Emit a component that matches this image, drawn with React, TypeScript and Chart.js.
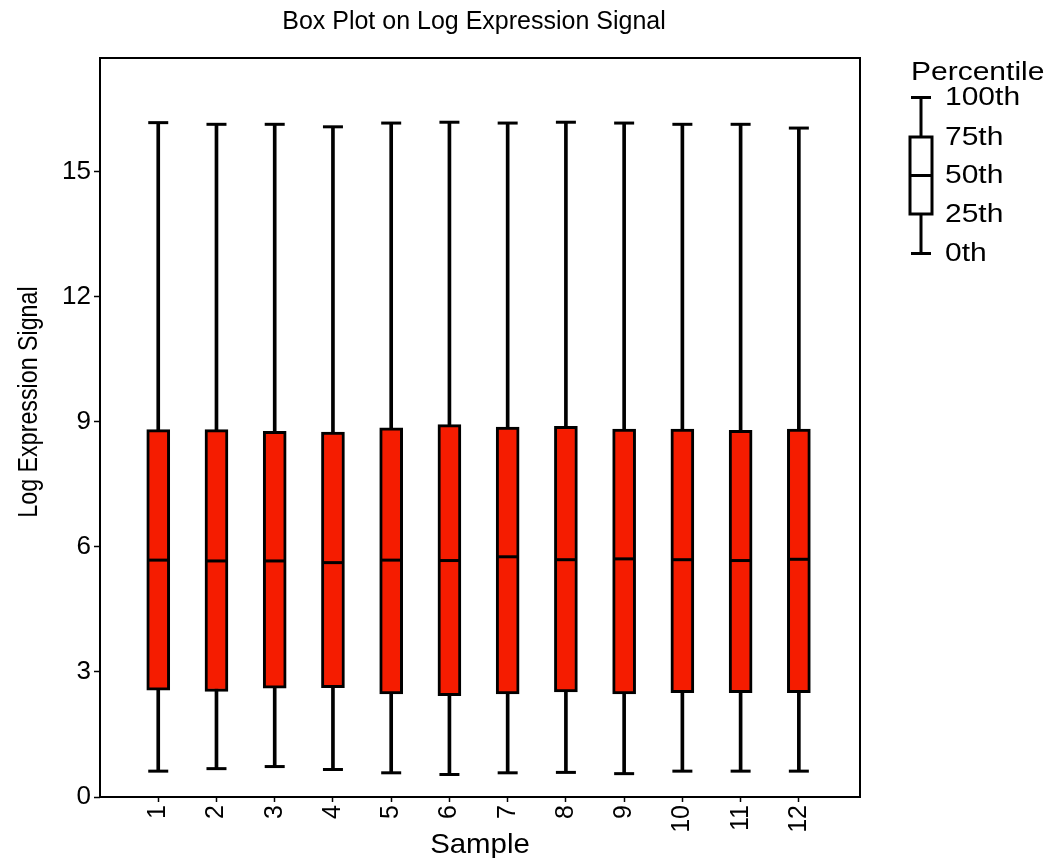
import { useEffect, useRef } from 'react';
import { Chart, registerables } from 'chart.js';

Chart.register(...registerables);

const samples = ['1', '2', '3', '4', '5', '6', '7', '8', '9', '10', '11', '12'];
const whiskerMax = [16.17, 16.13, 16.13, 16.07, 16.16, 16.18, 16.16, 16.18, 16.16, 16.13, 16.13, 16.04];
const q3Values = [8.81, 8.81, 8.77, 8.75, 8.85, 8.93, 8.87, 8.89, 8.82, 8.82, 8.79, 8.82];
const medianValues = [5.68, 5.66, 5.66, 5.62, 5.68, 5.67, 5.76, 5.69, 5.71, 5.69, 5.67, 5.70];
const q1Values = [2.56, 2.53, 2.61, 2.62, 2.47, 2.43, 2.47, 2.52, 2.47, 2.50, 2.50, 2.50];
const whiskerMin = [0.62, 0.68, 0.73, 0.66, 0.58, 0.54, 0.58, 0.59, 0.56, 0.62, 0.62, 0.62];
const yTicks = [0, 3, 6, 9, 12, 15];
const legendLabels = ['100th', '75th', '50th', '25th', '0th'];

const chartTitle = 'Box Plot on Log Expression Signal';
const xTitle = 'Sample';
const yTitle = 'Log Expression Signal';
const legendTitle = 'Percentile';

const extrasPlugin = {
  id: 'extras',
  afterDraw(chart: any) {
    const { ctx, chartArea } = chart;
    ctx.save();
    // frame
    ctx.strokeStyle = '#000';
    ctx.lineWidth = 2;
    ctx.strokeRect(chartArea.left, chartArea.top, chartArea.right - chartArea.left, chartArea.bottom - chartArea.top);

    ctx.fillStyle = '#000';
    // title
    ctx.font = '25px "Liberation Sans", Arial, sans-serif';
    ctx.textAlign = 'center';
    ctx.textBaseline = 'alphabetic';
    ctx.fillText(chartTitle, 474, 29);

    // x title
    ctx.save();
    ctx.translate(480, 853);
    ctx.scale(1.05, 1);
    ctx.font = '28px "Liberation Sans", Arial, sans-serif';
    ctx.fillText(xTitle, 0, 0);
    ctx.restore();

    // y title (condensed)
    ctx.save();
    ctx.translate(37, 402);
    ctx.rotate(-Math.PI / 2);
    ctx.scale(0.83, 1);
    ctx.font = '28px "Liberation Sans", Arial, sans-serif';
    ctx.textAlign = 'center';
    ctx.fillText(yTitle, 0, 0);
    ctx.restore();

    // legend
    const lx = 921;
    const levels = [97.5, 137, 175.5, 214, 253.5];
    ctx.lineWidth = 3;
    ctx.strokeStyle = '#000';
    ctx.beginPath();
    ctx.moveTo(lx, levels[0]);
    ctx.lineTo(lx, levels[1]);
    ctx.moveTo(lx, levels[3]);
    ctx.lineTo(lx, levels[4]);
    ctx.moveTo(lx - 10, levels[0]);
    ctx.lineTo(lx + 10, levels[0]);
    ctx.moveTo(lx - 10, levels[4]);
    ctx.lineTo(lx + 10, levels[4]);
    ctx.stroke();
    ctx.fillStyle = '#fff';
    ctx.fillRect(lx - 11, levels[1], 22, levels[3] - levels[1]);
    ctx.strokeRect(lx - 11, levels[1], 22, levels[3] - levels[1]);
    ctx.beginPath();
    ctx.moveTo(lx - 11, levels[2]);
    ctx.lineTo(lx + 11, levels[2]);
    ctx.stroke();

    ctx.fillStyle = '#000';
    ctx.textAlign = 'left';
    ctx.font = '25px "Liberation Sans", Arial, sans-serif';
    ctx.save();
    ctx.translate(911, 80);
    ctx.scale(1.2, 1);
    ctx.fillText(legendTitle, 0, 0);
    ctx.restore();
    ctx.textBaseline = 'middle';
    legendLabels.forEach((lab, i) => {
      ctx.save();
      ctx.translate(945, levels[i] + 1);
      ctx.scale(1.2, 1);
      ctx.fillText(lab, 0, 0);
      ctx.restore();
    });
    ctx.restore();
  },
};

export default function App() {
  const canvasRef = useRef<HTMLCanvasElement | null>(null);

  useEffect(() => {
    if (!canvasRef.current) return;
    const xs = samples.map((_, i) => i + 1);
    const chart = new Chart(canvasRef.current, {
      type: 'bar',
      data: {
        datasets: [
          {
            type: 'line',
            label: 'median',
            data: xs.map((x, i) => ({ x, y: medianValues[i] })),
            showLine: false,
            pointStyle: 'line',
            pointRadius: 10.5,
            pointBorderWidth: 3,
            pointBorderColor: '#000',
            order: 0,
          } as any,
          {
            type: 'line',
            label: 'caps',
            data: [
              ...xs.map((x, i) => ({ x, y: whiskerMax[i] })),
              ...xs.map((x, i) => ({ x, y: whiskerMin[i] })),
            ],
            showLine: false,
            pointStyle: 'line',
            pointRadius: 10,
            pointBorderWidth: 3,
            pointBorderColor: '#000',
            order: 1,
          } as any,
          {
            type: 'bar',
            label: 'box',
            data: xs.map((x, i) => ({ x, y: [q1Values[i], q3Values[i]] })),
            backgroundColor: '#f51c00',
            borderColor: '#000',
            borderWidth: 3,
            borderSkipped: false,
            barThickness: 23,
            grouped: false,
            order: 2,
          } as any,
          {
            type: 'bar',
            label: 'whisker',
            data: xs.map((x, i) => ({ x, y: [whiskerMin[i], whiskerMax[i]] })),
            backgroundColor: '#000',
            borderWidth: 0,
            barThickness: 3,
            grouped: false,
            order: 3,
          } as any,
        ],
      },
      options: {
        responsive: false,
        animation: false,
        devicePixelRatio: 1,
        layout: { padding: { top: 58, right: 188, left: 0, bottom: 0 } },
        plugins: {
          legend: { display: false },
          title: { display: false },
          tooltip: { enabled: false },
        },
        scales: {
          x: {
            type: 'linear',
            min: 0,
            max: 13.05,
            offset: false,
            afterBuildTicks: (scale: any) => {
              scale.ticks = xs.map((v) => ({ value: v }));
            },
            afterFit: (scale: any) => {
              scale.height = 61;
            },
            ticks: {
              minRotation: 90,
              maxRotation: 90,
              autoSkip: false,
              padding: 3,
              color: '#000',
              font: { family: '"Liberation Sans", Arial, sans-serif', size: 25 },
              callback: (v: any) => samples[Number(v) - 1] ?? '',
            },
            grid: { offset: false, drawOnChartArea: false, drawTicks: true, tickLength: 5, color: '#000', tickWidth: 1.5 },
            border: { display: false },
          },
          y: {
            type: 'linear',
            min: 0,
            max: 17.72,
            afterBuildTicks: (scale: any) => {
              scale.ticks = yTicks.map((v) => ({ value: v }));
            },
            afterFit: (scale: any) => {
              scale.width = 100;
            },
            ticks: {
              padding: 3,
              color: '#000',
              font: { family: '"Liberation Sans", Arial, sans-serif', size: 26 },
            },
            grid: { drawOnChartArea: false, drawTicks: true, tickLength: 6, color: '#000', tickWidth: 1.5 },
            border: { display: false },
          },
        },
      },
      plugins: [extrasPlugin],
    });
    return () => chart.destroy();
  }, []);

  return (
    <canvas
      ref={canvasRef}
      width={1048}
      height={858}
      style={{ position: 'absolute', left: 0, top: 0, display: 'block', background: '#fff' }}
    />
  );
}
